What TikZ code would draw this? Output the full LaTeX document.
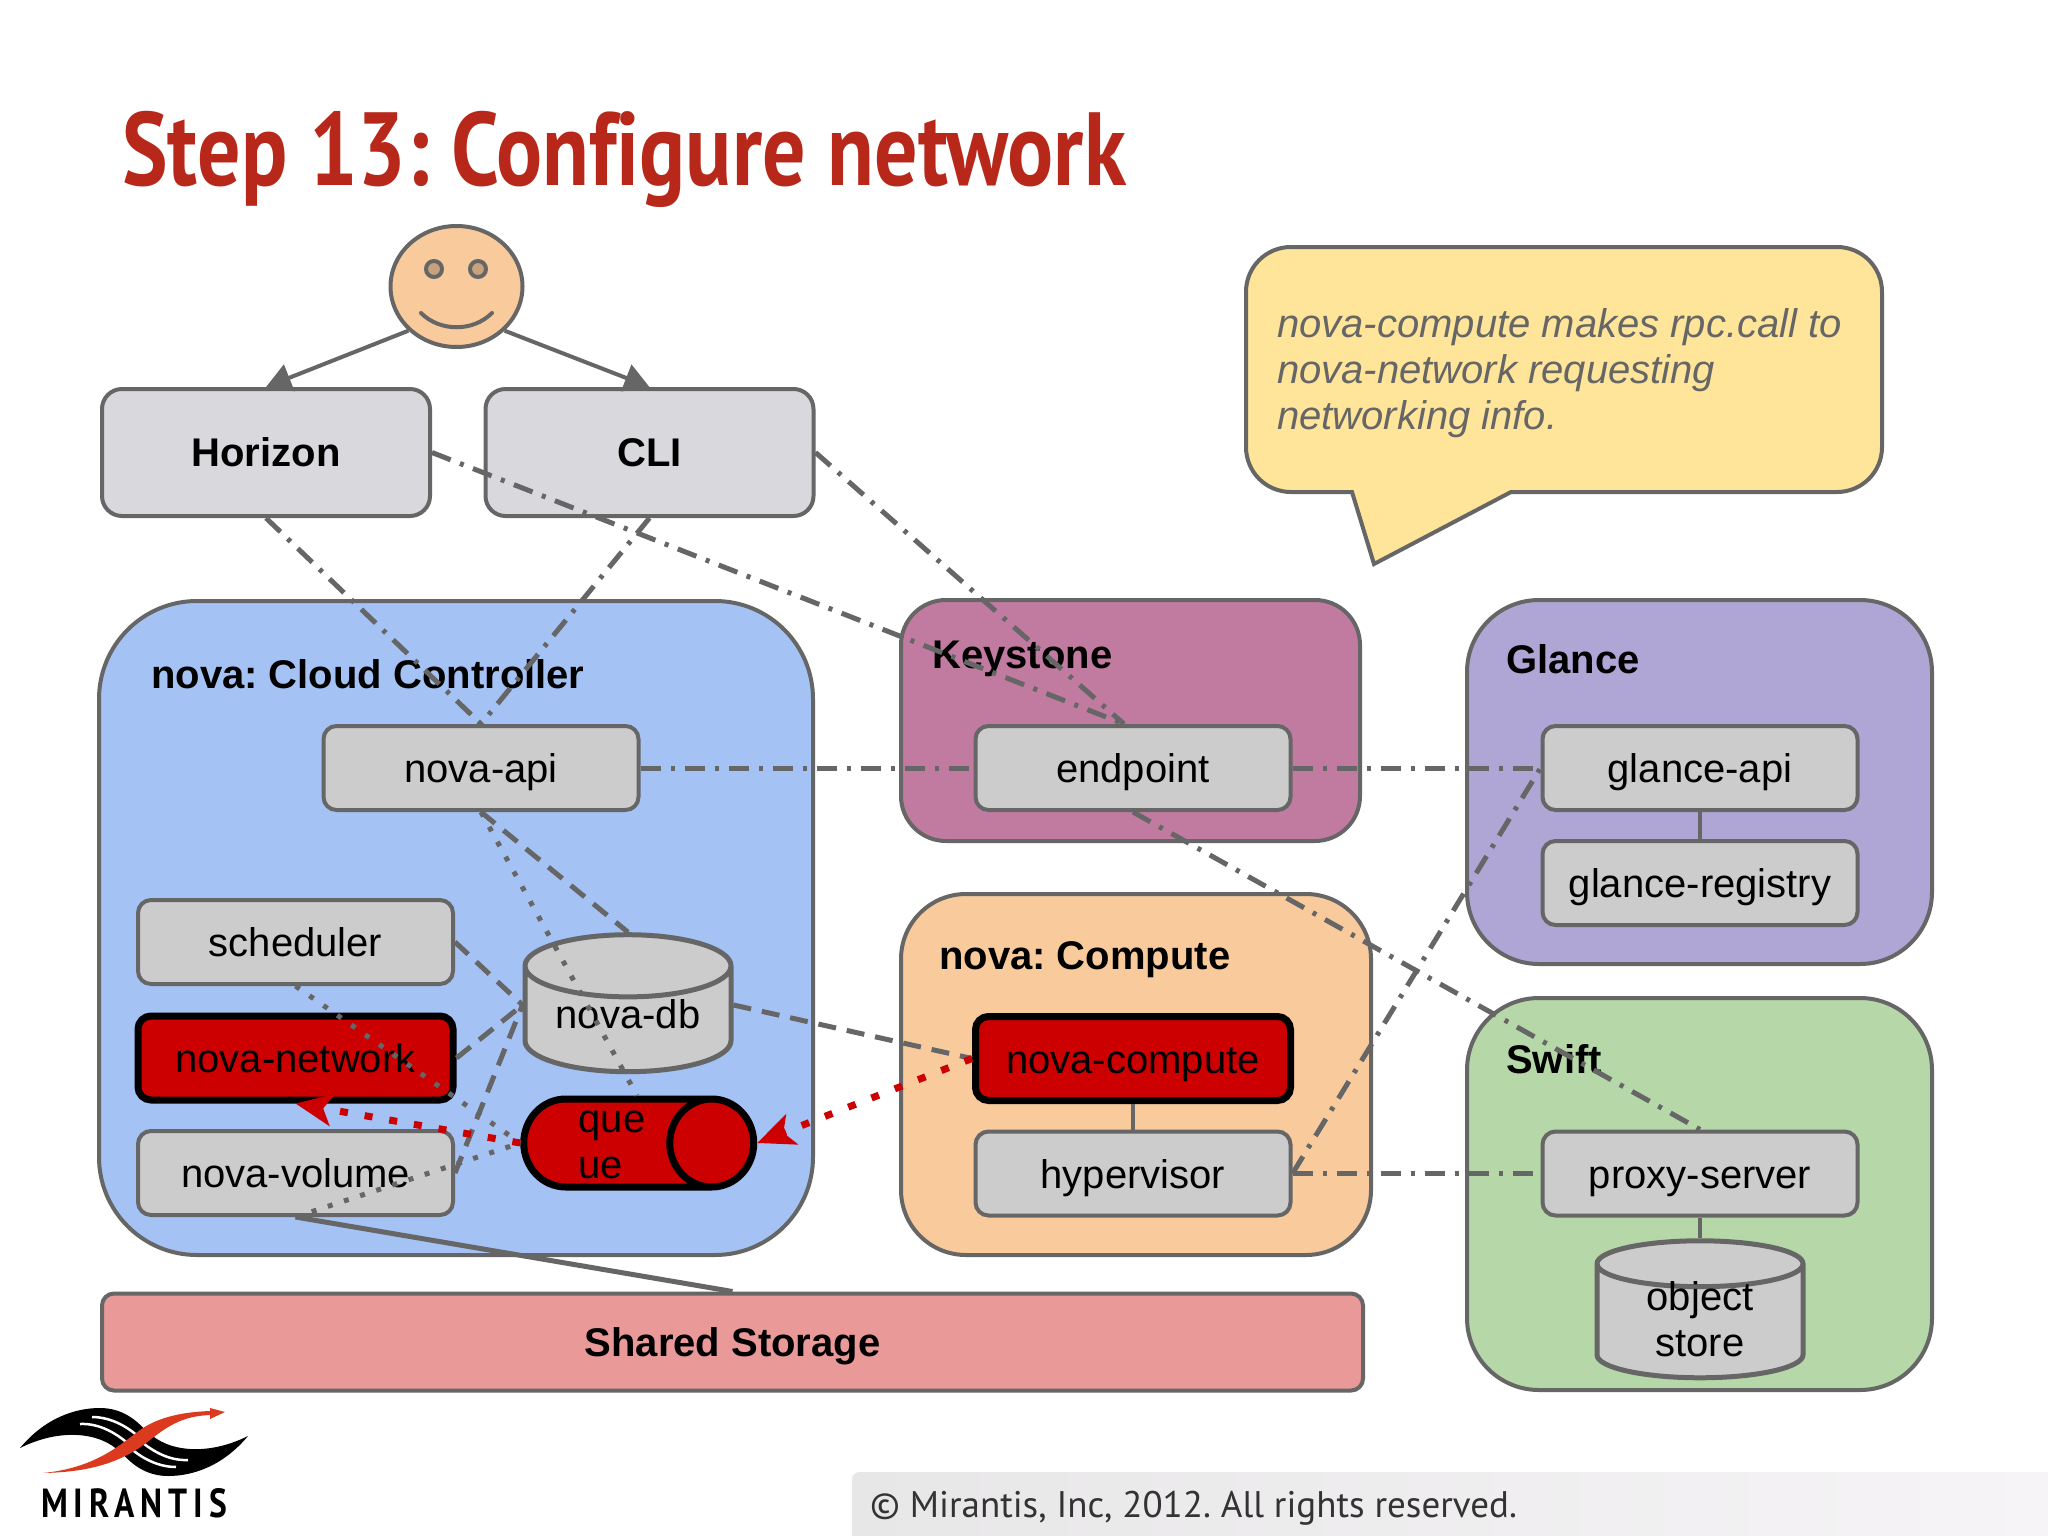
\documentclass[tikz,border=0pt]{standalone}
\usepackage{fontspec}
\setmainfont{Liberation Sans}
\newfontfamily\titlefont[Ligatures=NoCommon]{PT Sans}
\newfontfamily\logofont[LetterSpace=18]{PT Sans}
\frenchspacing
\usetikzlibrary{shapes.geometric, arrows.meta}
\definecolor{linegray}{HTML}{666666}
\definecolor{boxgray}{HTML}{CCCCCC}
\definecolor{topgray}{HTML}{D9D8DC}
\definecolor{alarmred}{HTML}{CC0000}
\definecolor{titlered}{HTML}{B7281A}
\definecolor{cloudblue}{HTML}{A4C2F4}
\definecolor{keypink}{HTML}{C27BA0}
\definecolor{computeorange}{HTML}{F9CB9C}
\definecolor{glancepurple}{HTML}{B0A6D6}
\definecolor{swiftgreen}{HTML}{B6D7A8}
\definecolor{sharedred}{HTML}{EA9999}
\definecolor{notecream}{HTML}{FFE599}
\definecolor{eyetan}{HTML}{C8A27C}
\definecolor{footerleft}{HTML}{E8E7E8}
\definecolor{footerright}{HTML}{F6F4F6}
\definecolor{logored}{HTML}{DB3A1E}
\tikzstyle{group} = [rectangle, draw=linegray, line width=4pt, inner sep=0pt]
\tikzstyle{topbox} = [rectangle, rounded corners=20pt, minimum width=328pt, minimum height=127pt,
draw=linegray, line width=4pt, fill=topgray, font=\fontsize{40}{46}\selectfont\bfseries]
\tikzstyle{box} = [rectangle, rounded corners=13pt, minimum width=315pt, minimum height=84pt,
draw=linegray, line width=4pt, fill=boxgray, text height=29pt, text depth=0pt, font=\fontsize{40}{46}\selectfont]
\tikzstyle{hotbox} = [box, draw=black, line width=7pt, fill=alarmred]
\tikzstyle{db} = [cylinder, shape border rotate=90, aspect=0.43, minimum width=206pt, minimum height=137pt,
draw=linegray, line width=5pt, fill=boxgray, inner sep=0pt, font=\fontsize{40}{46}\selectfont]
\tikzstyle{grouptitle} = [anchor=base west, inner sep=0pt, font=\fontsize{40}{46}\selectfont\bfseries]
\tikzstyle{wire} = [draw=linegray, line width=5pt]
\tikzstyle{dashdotwire} = [wire, dash pattern=on 20pt off 10pt on 4pt off 10pt]
\tikzstyle{dashwire} = [wire, dash pattern=on 18pt off 11pt]
\tikzstyle{dotwire} = [wire, dash pattern=on 5pt off 12pt]
\tikzstyle{link} = [draw=linegray, line width=4pt]
\tikzstyle{call} = [draw=alarmred, line width=7pt, dash pattern=on 8pt off 17pt,
-{Stealth[length=37pt,width=32pt,inset=9pt,fill=alarmred,sep=0pt]}]
\tikzstyle{arrow} = [draw=linegray, line width=4pt, -{Triangle[length=25pt,width=28pt,fill=linegray]}]

\begin{document}
\begin{tikzpicture}[x=1pt,y=-1pt,node distance=115pt]
\useasboundingbox (0,0) rectangle (2048,1536);
\fill[white] (0,0) rectangle (2048,1536);
\node (heading) [anchor=base west, inner sep=0pt, text=titlered] at (122,185)
  {\resizebox{1004pt}{\height}{\fontsize{104}{110}\titlefont\bfseries Step 13: Configure network}};
%Calling the regions
\node (cloud) [group, fill=cloudblue, minimum width=714pt, minimum height=654pt, rounded corners=98pt] at (456,928) {};
\node (keystone) [group, fill=keypink, minimum width=459pt, minimum height=241pt, rounded corners=45pt] at (1130.5,720.5) {};
\node (compute) [group, fill=computeorange, minimum width=470pt, minimum height=361pt, rounded corners=65pt] at (1136,1074.5) {};
\node (glance) [group, fill=glancepurple, minimum width=465pt, minimum height=364pt, rounded corners=72pt] at (1699.5,782) {};
\node (swift) [group, fill=swiftgreen, minimum width=465pt, minimum height=392pt, rounded corners=72pt] at (1699.5,1194) {};
\node (shared) [group, fill=sharedred, minimum width=1261pt, minimum height=97pt, rounded corners=12pt,
  text height=29pt, text depth=0pt, font=\fontsize{40}{46}\selectfont\bfseries] at (732.5,1342) {Shared Storage};
\node (cloudtitle) [grouptitle] at (151,688) {nova: Cloud Controller};
\node (keytitle) [grouptitle] at (932,668) {Keystone};
\node (computetitle) [grouptitle] at (939,969) {nova: Compute};
\node (glancetitle) [grouptitle] at (1506,673) {Glance};
\node (swifttitle) [grouptitle] at (1506,1073) {Swift};
% The note
\draw[draw=linegray, line width=4pt, fill=notecream]
  (1291,247) -- (1837,247) .. controls (1862,247) and (1882,267) .. (1882,292) -- (1882,447)
  .. controls (1882,472) and (1862,492) .. (1837,492) -- (1511,492) -- (1374,564) -- (1352,492) -- (1291,492)
  .. controls (1266,492) and (1246,472) .. (1246,447) -- (1246,292) .. controls (1246,267) and (1266,247) .. (1291,247) -- cycle;
\node (note) [anchor=north west, inner sep=0pt, align=left, text=linegray, font=\fontsize{40}{45.7}\selectfont\itshape] at (1277,308.5)
  {nova-compute makes rpc.call to\\nova-network requesting\\networking info.};
% The user
\node (face) [ellipse, draw=linegray, line width=4pt, fill=computeorange, minimum width=132pt, minimum height=121pt, inner sep=0pt] at (456.5,286.5) {};
\node (lefteye) [ellipse, draw=linegray, line width=4pt, fill=eyetan, minimum width=16pt, minimum height=16pt, inner sep=0pt] at (434,269) {};
\node (righteye) [ellipse, draw=linegray, line width=4pt, fill=eyetan, minimum width=16pt, minimum height=16pt, inner sep=0pt] at (478,269) {};
\draw[draw=linegray, line width=4pt, line cap=round] (421,313) .. controls (440,332) and (473,332) .. (492,313);
\node (horizon) [topbox] at (266,452.5) {Horizon};
\node (cli) [topbox] at (649.5,452.5) {CLI};
% The services
\node (novaapi) [box] at (481,768) {nova-api};
\node (endpoint) [box, right of=novaapi, xshift=537pt] {endpoint};
\node (glanceapi) [box, right of=endpoint, xshift=452pt] {glance-api};
\node (registry) [box, below of=glanceapi] {glance-registry};
\node (scheduler) [box] at (295.5,942) {scheduler};
\node (network) [hotbox, below of=scheduler, yshift=-1pt] {nova-network};
\node (volume) [box, below of=network] {nova-volume};
\node (novacompute) [hotbox] at (1133,1058.5) {nova-compute};
\node (hypervisor) [box, below of=novacompute] {hypervisor};
\node (proxy) [box, right of=hypervisor, xshift=452pt] {proxy-server};
\node (novadb) [db] at (628,1020) {\raisebox{2pt}[20pt][0pt]{nova-db}};
\node (store) [db] at (1700,1322) {\raisebox{-24pt}[20pt][0pt]{\begin{tabular}[b]{@{}c@{}}object\\store\end{tabular}}};
\node (queue) [cylinder, aspect=4.2, minimum width=88pt, minimum height=230pt, draw=black, line width=7pt,
  fill=alarmred, inner sep=0pt, font=\fontsize{40}{46}\selectfont] at (616,1143)
  {\raisebox{-25pt}[20pt][0pt]{\hspace*{-8pt}\begin{tabular}[b]{@{}l@{}}que\\ue\end{tabular}}};
% Drawing the connectors
\draw[arrow] (face.south west) -- (horizon.north);
\draw[arrow] (face.south east) -- (cli.north);
\draw[dashdotwire] (horizon.south) -- (novaapi.north);
\draw[dashdotwire] (cli.south) -- (novaapi.north);
\draw[dashdotwire] (horizon.east) -- ([xshift=-9pt]endpoint.north);
\draw[dashdotwire] (cli.east) -- ([xshift=-9pt]endpoint.north);
\draw[dashdotwire] (novaapi.east) -- (endpoint.west);
\draw[dashdotwire] (endpoint.east) -- (glanceapi.west);
\draw[dashdotwire] (endpoint.south) -- (proxy.north);
\draw[dashdotwire] (hypervisor.east) -- (glanceapi.west);
\draw[dashdotwire] (hypervisor.east) -- (proxy.west);
\draw[dashwire] (novaapi.south) -- (novadb.north);
\draw[dashwire] (scheduler.east) -- ([yshift=15pt]novadb.west);
\draw[dashwire] (network.east) -- ([yshift=15pt]novadb.west);
\draw[dashwire] (volume.east) -- ([yshift=15pt]novadb.west);
\draw[dashwire] ([yshift=15pt]novadb.east) -- (novacompute.west);
\draw[dotwire] (novaapi.south) -- ([xshift=21pt]queue.north);
\draw[dotwire] (scheduler.south) -- (queue.west);
\draw[dotwire] (volume.south) -- (queue.west);
\draw[wire] (volume.south) -- (shared.north);
\draw[link] (glanceapi) -- (registry);
\draw[link] (novacompute) -- (hypervisor);
\draw[link] (proxy) -- (store.north);
\draw[call] (novacompute.west) -- (queue.east);
\draw[call] (queue.west) -- (network.south);
% The footer and the logo
\path[left color=footerleft, right color=footerright] (2048,1536) -- (852,1536) -- (852,1480) .. controls (852,1475) and (855,1472) .. (860,1472) -- (2048,1472) -- cycle;
\node (copyright) [anchor=base west, inner sep=0pt, text=black!80] at (870,1517)
  {\fontsize{37}{40}\titlefont \textcopyright{} Mirantis, Inc, 2012. All rights reserved.};
\foreach \ang in {0,180} {
  \begin{scope}[rotate around={\ang:(134,1442)}]
    \fill[black] (20,1448) .. controls (45,1418) and (75,1408) .. (100,1408)
      .. controls (122,1408) and (138,1420) .. (150,1436) -- (120,1452)
      .. controls (100,1432) and (60,1428) .. (20,1448) -- cycle;
    \draw[white, line width=2.5pt] (80,1424) .. controls (100,1423) and (118,1434) .. (132,1447);
    \draw[white, line width=2.5pt] (92,1417) .. controls (112,1417) and (130,1428) .. (142,1440);
  \end{scope}
}
\fill[logored] (43,1473) .. controls (95,1468) and (120,1445) .. (140,1430)
  .. controls (160,1416) and (185,1412) .. (210,1411) -- (210,1408) -- (225,1412) -- (210,1419) -- (210,1415)
  .. controls (185,1416) and (170,1424) .. (150,1440) .. controls (125,1460) and (95,1472) .. (43,1473) -- cycle;
\node (logoname) [anchor=base west, inner sep=0pt, text=black] at (41,1517)
  {\resizebox{186pt}{29pt}{\fontsize{40}{44}\logofont\bfseries MIRANTIS}};
\end{tikzpicture}
\end{document}
